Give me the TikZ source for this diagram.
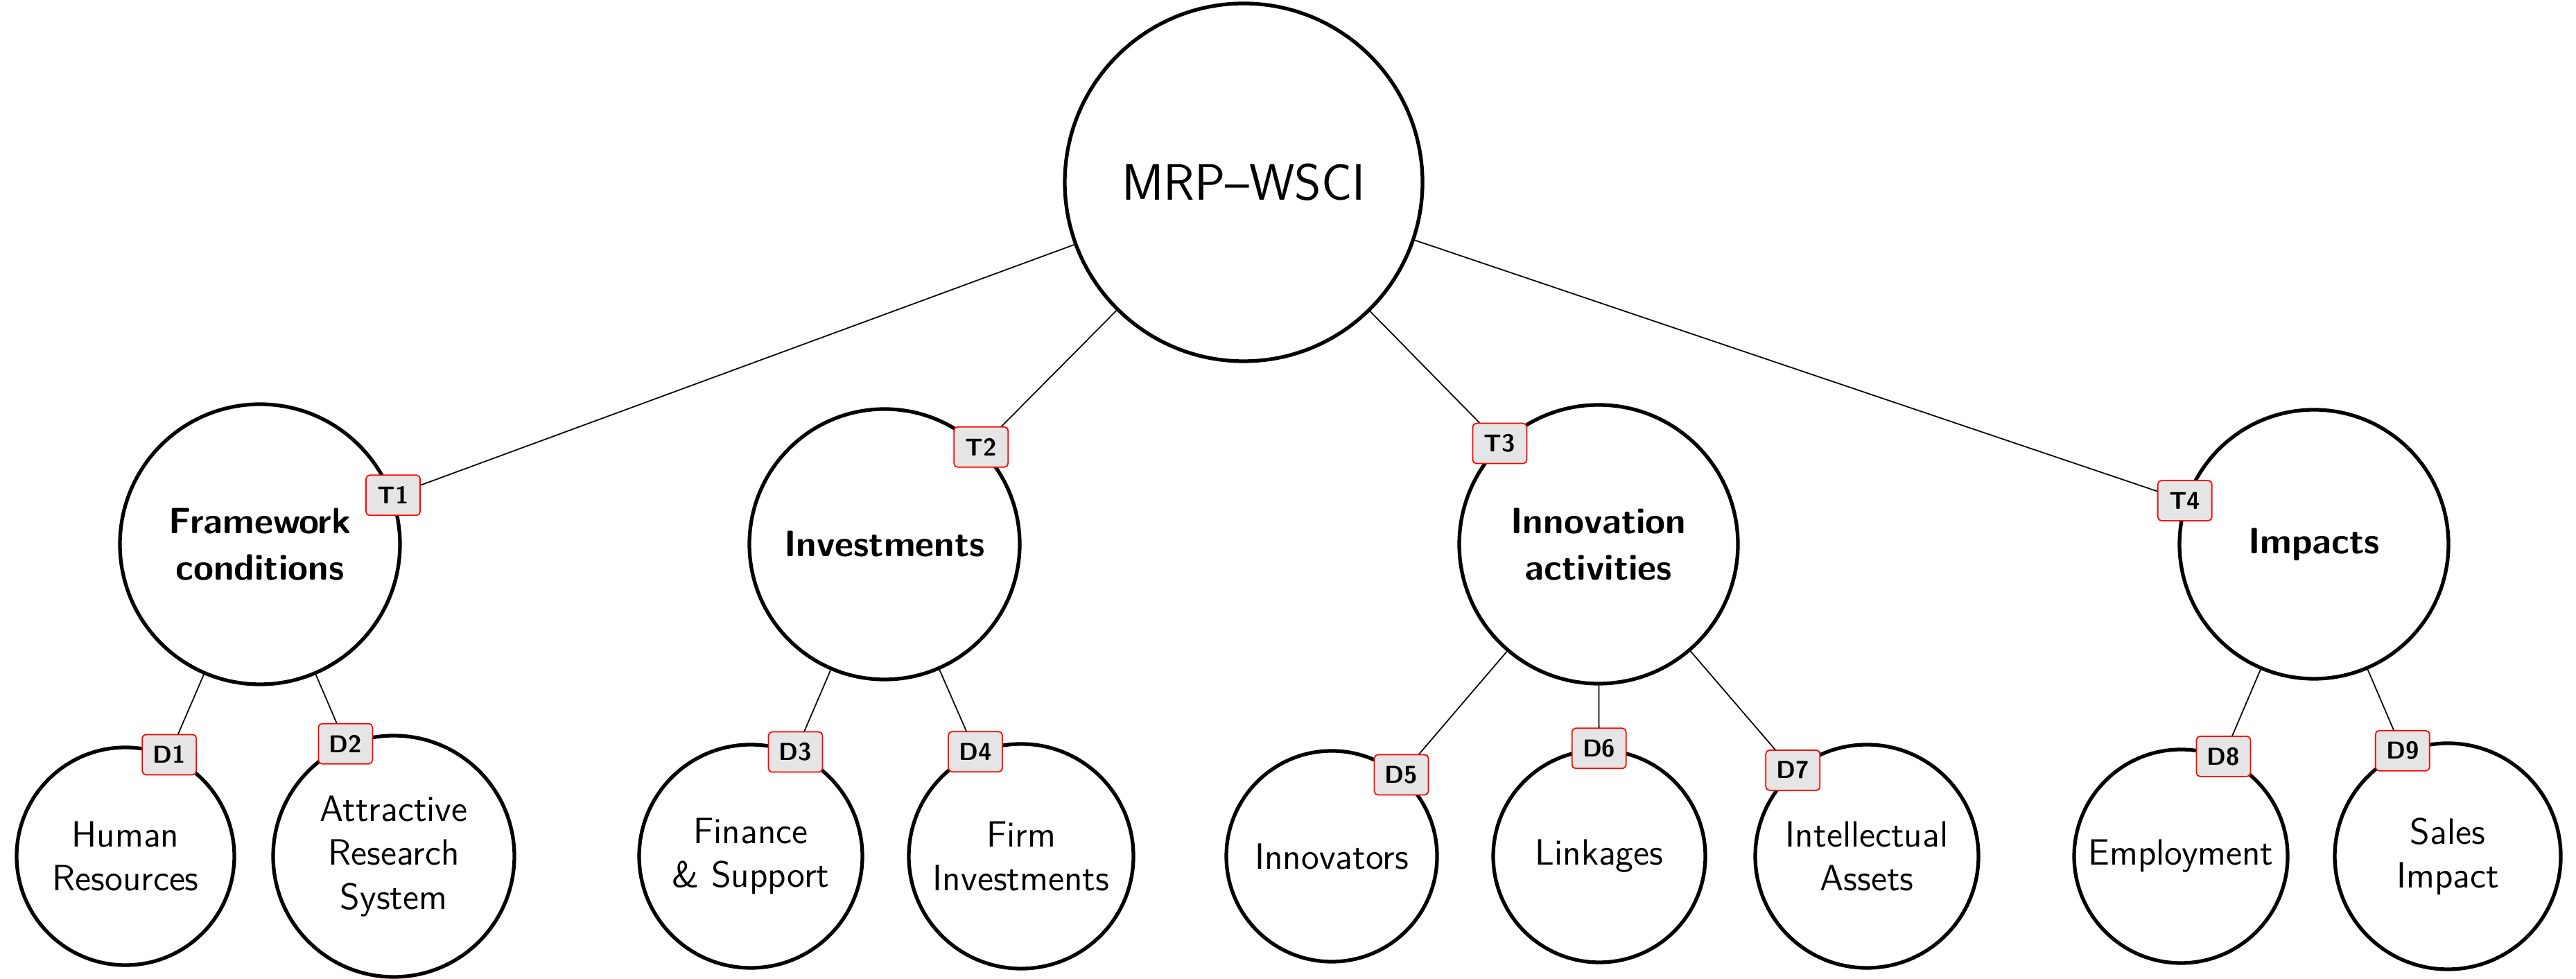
\documentclass[tikz,border=0pt]{standalone}
\begin{document}
\begin{tikzpicture}[
  font=\sffamily,
  circ/.style={circle,draw,line width=1.5pt,inner sep=0pt,align=center},
  top/.style={circ,font=\sffamily\fontsize{21}{25}\selectfont},
  mid/.style={circ,font=\sffamily\bfseries\fontsize{15}{19}\selectfont},
  low/.style={circ,font=\sffamily\fontsize{15}{18}\selectfont},
  tag/.style={draw=red,fill=gray!20,rounded corners=1.5pt,minimum width=0.78cm,minimum height=0.58cm,inner sep=1pt,font=\sffamily\bfseries\fontsize{10}{12}\selectfont},
  con/.style={line width=0.5pt}
]
\useasboundingbox (0,0) rectangle (37.16,14.12);
\node[top,minimum size=5.16cm] (root) at (17.94,11.49) {MRP--WSCI};
\node[mid,minimum size=4.04cm] (fw) at (3.75,6.27) {Framework\\conditions};
\node[mid,minimum size=3.90cm] (inv) at (12.76,6.27) {Investments};
\node[mid,minimum size=4.02cm] (ia) at (23.06,6.27) {Innovation\\activities};
\node[mid,minimum size=3.88cm] (imp) at (33.38,6.27) {Impacts};
\node[low,minimum size=3.14cm] (hr) at (1.81,1.77) {Human\\Resources};
\node[low,minimum size=3.48cm] (ars) at (5.68,1.77) {Attractive\\Research\\System};
\node[low,minimum size=3.22cm] (fs) at (10.83,1.77) {Finance\\\& Support};
\node[low,minimum size=3.24cm] (fi) at (14.73,1.77) {Firm\\Investments};
\node[low,minimum size=3.04cm] (inn) at (19.21,1.77) {Innovators};
\node[low,minimum size=3.06cm] (lk) at (23.07,1.77) {Linkages};
\node[low,minimum size=3.22cm] (ias) at (26.93,1.77) {Intellectual\\Assets};
\node[low,minimum size=3.08cm] (emp) at (31.46,1.77) {Employment};
\node[low,minimum size=3.26cm] (si) at (35.31,1.77) {Sales\\Impact};
\draw[con] (root) -- (fw) node[tag,pos=1] (t1) {T1};
\draw[con] (root) -- (inv) node[tag,pos=1] (t2) {T2};
\draw[con] (root) -- (ia) node[tag,pos=1] (t3) {T3};
\draw[con] (root) -- (imp) node[tag,pos=1] (t4) {T4};
\draw[con] (fw) -- (hr) node[tag,pos=1] (d1) {D1};
\draw[con] (fw) -- (ars) node[tag,pos=1] (d2) {D2};
\draw[con] (inv) -- (fs) node[tag,pos=1] (d3) {D3};
\draw[con] (inv) -- (fi) node[tag,pos=1] (d4) {D4};
\draw[con] (ia) -- (inn) node[tag,pos=1] (d5) {D5};
\draw[con] (ia) -- (lk) node[tag,pos=1] (d6) {D6};
\draw[con] (ia) -- (ias) node[tag,pos=1] (d7) {D7};
\draw[con] (imp) -- (emp) node[tag,pos=1] (d8) {D8};
\draw[con] (imp) -- (si) node[tag,pos=1] (d9) {D9};
\end{tikzpicture}
\end{document}
